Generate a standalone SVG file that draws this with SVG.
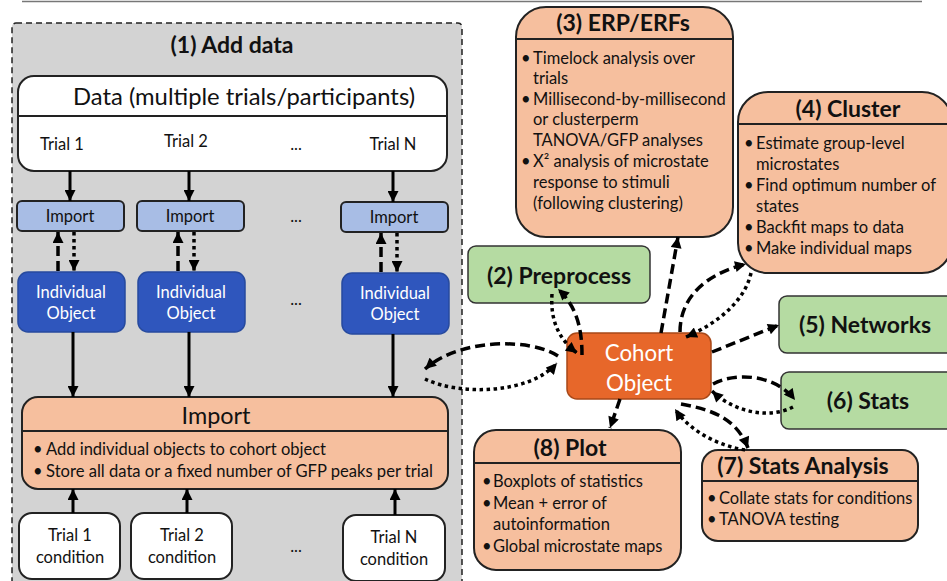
<svg xmlns="http://www.w3.org/2000/svg" width="947" height="581" viewBox="0 0 947 581">
<defs>
<marker id="ah" viewBox="0 0 10 10" refX="10" refY="5" markerWidth="12" markerHeight="11" markerUnits="userSpaceOnUse" orient="auto"><path d="M0 0 L10 5 L0 10 z" fill="#000"/></marker>
<style>
text{font-family:Lato,"Liberation Sans",sans-serif;fill:#111}
.b{font-weight:bold}
.c{text-anchor:middle}
.w{fill:#fff}
.box{stroke:#222;stroke-width:2}
.peach{fill:#f6bf9e}
.green{fill:#b5dba2}
.lb{fill:#a8bde5}
.db{fill:#2f56bd;stroke:#274a9e;stroke-width:1.5}
.solid{stroke:#000;stroke-width:3;fill:none}
.dash{stroke:#000;stroke-width:3.5;fill:none;stroke-dasharray:10 5}
.dot{stroke:#000;stroke-width:3.5;fill:none;stroke-dasharray:3.5 3.5}
.t15{font-size:16.5px}
.ti{font-size:23px;font-weight:bold;text-anchor:middle}
</style>
</defs>
<rect width="947" height="581" fill="#fff"/>
<line x1="22" y1="1.5" x2="922" y2="1.5" stroke="#777" stroke-width="1.5"/>

<g id="add-data">
<rect x="12" y="23" width="450" height="575" rx="4" fill="#d3d3d3" stroke="#222" stroke-width="1.5" stroke-dasharray="6 4"/>
<text x="232" y="53" class="ti" font-size="24">(1) Add data</text>
</g>

<g id="data">
<rect x="18" y="76" width="429" height="95" rx="16" fill="#fff" class="box"/>
<line x1="18" y1="116" x2="447" y2="116" stroke="#222" stroke-width="2"/>
<text x="244" y="105" class="c" font-size="23.8">Data (multiple trials/participants)</text>
<text x="62" y="150" class="c t15">Trial 1</text>
<text x="186" y="147" class="c t15">Trial 2</text>
<text x="296" y="150" class="c t15">...</text>
<text x="393" y="150" class="c t15">Trial N</text>
</g>

<g id="import1"><rect x="17" y="201" width="107" height="30" rx="5" class="box lb"/><text x="70" y="222" class="c t15">Import</text></g>
<g id="import2"><rect x="137" y="201" width="107" height="30" rx="5" class="box lb"/><text x="190" y="222" class="c t15">Import</text></g>
<g id="importN"><rect x="341" y="202" width="107" height="30" rx="5" class="box lb"/><text x="394" y="223" class="c t15">Import</text></g>
<text x="296" y="222" class="c t15">...</text>

<g id="obj1"><rect x="18" y="272" width="107" height="60" rx="10" class="db"/><text x="71" y="298" class="c t15 w">Individual</text><text x="71" y="319" class="c t15 w">Object</text></g>
<g id="obj2"><rect x="138" y="272" width="107" height="60" rx="10" class="db"/><text x="191" y="298" class="c t15 w">Individual</text><text x="191" y="319" class="c t15 w">Object</text></g>
<g id="objN"><rect x="342" y="273" width="107" height="61" rx="10" class="db"/><text x="395" y="299" class="c t15 w">Individual</text><text x="395" y="320" class="c t15 w">Object</text></g>
<text x="296" y="305" class="c t15">...</text>

<g id="import-main">
<rect x="22" y="397" width="426" height="92" rx="16" class="box peach"/>
<line x1="22" y1="431" x2="448" y2="431" stroke="#222" stroke-width="2"/>
<text x="216" y="424" class="c" font-size="23.4">Import</text>
<text x="33" y="455" class="t15">•</text><text x="46" y="455" class="t15">Add individual objects to cohort object</text>
<text x="33" y="477" class="t15">•</text><text x="46" y="477" class="t15" textLength="387" lengthAdjust="spacingAndGlyphs">Store all data or a fixed number of GFP peaks per trial</text>
</g>

<g id="cond1"><rect x="19" y="513" width="101" height="66" rx="13" fill="#fff" class="box"/><text x="70" y="541" class="c t15">Trial 1</text><text x="70" y="563" class="c t15">condition</text></g>
<g id="cond2"><rect x="131" y="513" width="101" height="66" rx="13" fill="#fff" class="box"/><text x="182" y="541" class="c t15">Trial 2</text><text x="182" y="563" class="c t15">condition</text></g>
<g id="condN"><rect x="343" y="515" width="102" height="66" rx="13" fill="#fff" class="box"/><text x="394" y="543" class="c t15">Trial N</text><text x="394" y="565" class="c t15">condition</text></g>
<text x="296" y="552" class="c t15">...</text>

<g id="erp">
<rect x="516" y="7" width="217" height="230" rx="30" class="box peach"/>
<line x1="516" y1="39" x2="733" y2="39" stroke="#222" stroke-width="2"/>
<text x="623" y="31" class="ti">(3) ERP/ERFs</text>
<g class="t15">
<text x="521" y="64">•</text><text x="533" y="64">Timelock analysis over</text>
<text x="533" y="84">trials</text>
<text x="521" y="105">•</text><text x="533" y="105">Millisecond-by-millisecond</text>
<text x="533" y="125">or clusterperm</text>
<text x="533" y="146">TANOVA/GFP analyses</text>
<text x="521" y="167">•</text><text x="533" y="167">X² analysis of microstate</text>
<text x="533" y="188">response to stimuli</text>
<text x="533" y="209">(following clustering)</text>
</g>
</g>

<g id="cluster">
<rect x="738" y="92" width="214" height="181" rx="30" class="box peach"/>
<line x1="738" y1="124" x2="952" y2="124" stroke="#222" stroke-width="2"/>
<text x="848" y="117" class="ti">(4) Cluster</text>
<g class="t15">
<text x="744" y="149">•</text><text x="756" y="149">Estimate group-level</text>
<text x="756" y="170">microstates</text>
<text x="744" y="191">•</text><text x="756" y="191">Find optimum number of</text>
<text x="756" y="212">states</text>
<text x="744" y="233">•</text><text x="756" y="233">Backfit maps to data</text>
<text x="744" y="254">•</text><text x="756" y="254">Make individual maps</text>
</g>
</g>

<g id="preprocess"><rect x="468" y="246" width="182" height="57" rx="8" class="green" stroke="#333" stroke-width="1.5"/><text x="559" y="284" class="ti">(2) Preprocess</text></g>

<g id="cohort"><rect x="567" y="333" width="144" height="66" rx="10" fill="#e7672a" stroke="#a84818" stroke-width="1.5"/><text x="639" y="361" class="c w" font-size="22.3">Cohort</text><text x="639" y="391" class="c w" font-size="22.3">Object</text></g>

<g id="networks"><rect x="779" y="296" width="175" height="57" rx="8" class="green" stroke="#333" stroke-width="1.5"/><text x="865" y="333" class="ti">(5) Networks</text></g>

<g id="stats"><rect x="781" y="372" width="173" height="57" rx="8" class="green" stroke="#333" stroke-width="1.5"/><text x="868" y="409" class="ti">(6) Stats</text></g>

<g id="plot">
<rect x="474" y="430" width="207" height="140" rx="22" class="box peach"/>
<line x1="474" y1="463" x2="681" y2="463" stroke="#222" stroke-width="2"/>
<text x="570" y="456" class="ti">(8) Plot</text>
<g class="t15">
<text x="482" y="487">•</text><text x="493" y="487">Boxplots of statistics</text>
<text x="482" y="509">•</text><text x="493" y="509">Mean + error of</text>
<text x="493" y="530">autoinformation</text>
<text x="482" y="552">•</text><text x="493" y="552">Global microstate maps</text>
</g>
</g>

<g id="stats-analysis">
<rect x="702" y="450" width="216" height="91" rx="16" class="box peach"/>
<line x1="702" y1="481" x2="918" y2="481" stroke="#222" stroke-width="2"/>
<text x="803" y="474" class="ti">(7) Stats Analysis</text>
<g class="t15">
<text x="707" y="504">•</text><text x="719" y="504">Collate stats for conditions</text>
<text x="707" y="525">•</text><text x="719" y="525">TANOVA testing</text>
</g>
</g>

<g id="connectors">
<path class="solid" d="M70 171 V201" marker-end="url(#ah)"/>
<path class="solid" d="M189 171 V201" marker-end="url(#ah)"/>
<path class="solid" d="M393 171 V202" marker-end="url(#ah)"/>
<path class="dash" d="M58 271 V232" marker-end="url(#ah)"/>
<path class="dot" d="M74 232 V271" marker-end="url(#ah)"/>
<path class="dash" d="M178 271 V232" marker-end="url(#ah)"/>
<path class="dot" d="M194 232 V271" marker-end="url(#ah)"/>
<path class="dash" d="M381 272 V233" marker-end="url(#ah)"/>
<path class="dot" d="M397 233 V272" marker-end="url(#ah)"/>
<path class="solid" d="M73 332 V397" marker-end="url(#ah)"/>
<path class="solid" d="M189 332 V397" marker-end="url(#ah)"/>
<path class="solid" d="M393 334 V397" marker-end="url(#ah)"/>
<path class="solid" d="M73 513 V489" marker-end="url(#ah)"/>
<path class="solid" d="M187 513 V489" marker-end="url(#ah)"/>
<path class="solid" d="M395 515 V489" marker-end="url(#ah)"/>
<path class="dash" d="M558 356 C530 338 460 338 425 369" marker-end="url(#ah)"/>
<path class="dot" d="M425 379 C460 396 530 394 557 363" marker-end="url(#ah)"/>
<path class="dash" d="M582 355 C582 325 575 305 558 289" marker-end="url(#ah)"/>
<path class="dot" d="M552 294 C550 322 560 340 577 353" marker-end="url(#ah)"/>
<path class="dash" d="M661 333 L678 237" marker-end="url(#ah)"/>
<path class="dash" d="M680 332 C680 298 705 274 746 264" marker-end="url(#ah)"/>
<path class="dot" d="M751 273 C745 300 720 322 686 337" marker-end="url(#ah)"/>
<path class="dash" d="M712 352 L779 325" marker-end="url(#ah)"/>
<path class="dash" d="M713 384 C735 372 775 374 795 400" marker-end="url(#ah)"/>
<path class="dot" d="M793 407 C770 419 735 413 712 391" marker-end="url(#ah)"/>
<path class="dash" d="M681 404 C715 410 737 420 748 448" marker-end="url(#ah)"/>
<path class="dot" d="M745 450 C720 446 690 432 675 409" marker-end="url(#ah)"/>
<path class="dash" d="M620 399 L610 428" marker-end="url(#ah)"/>
</g>
</svg>
